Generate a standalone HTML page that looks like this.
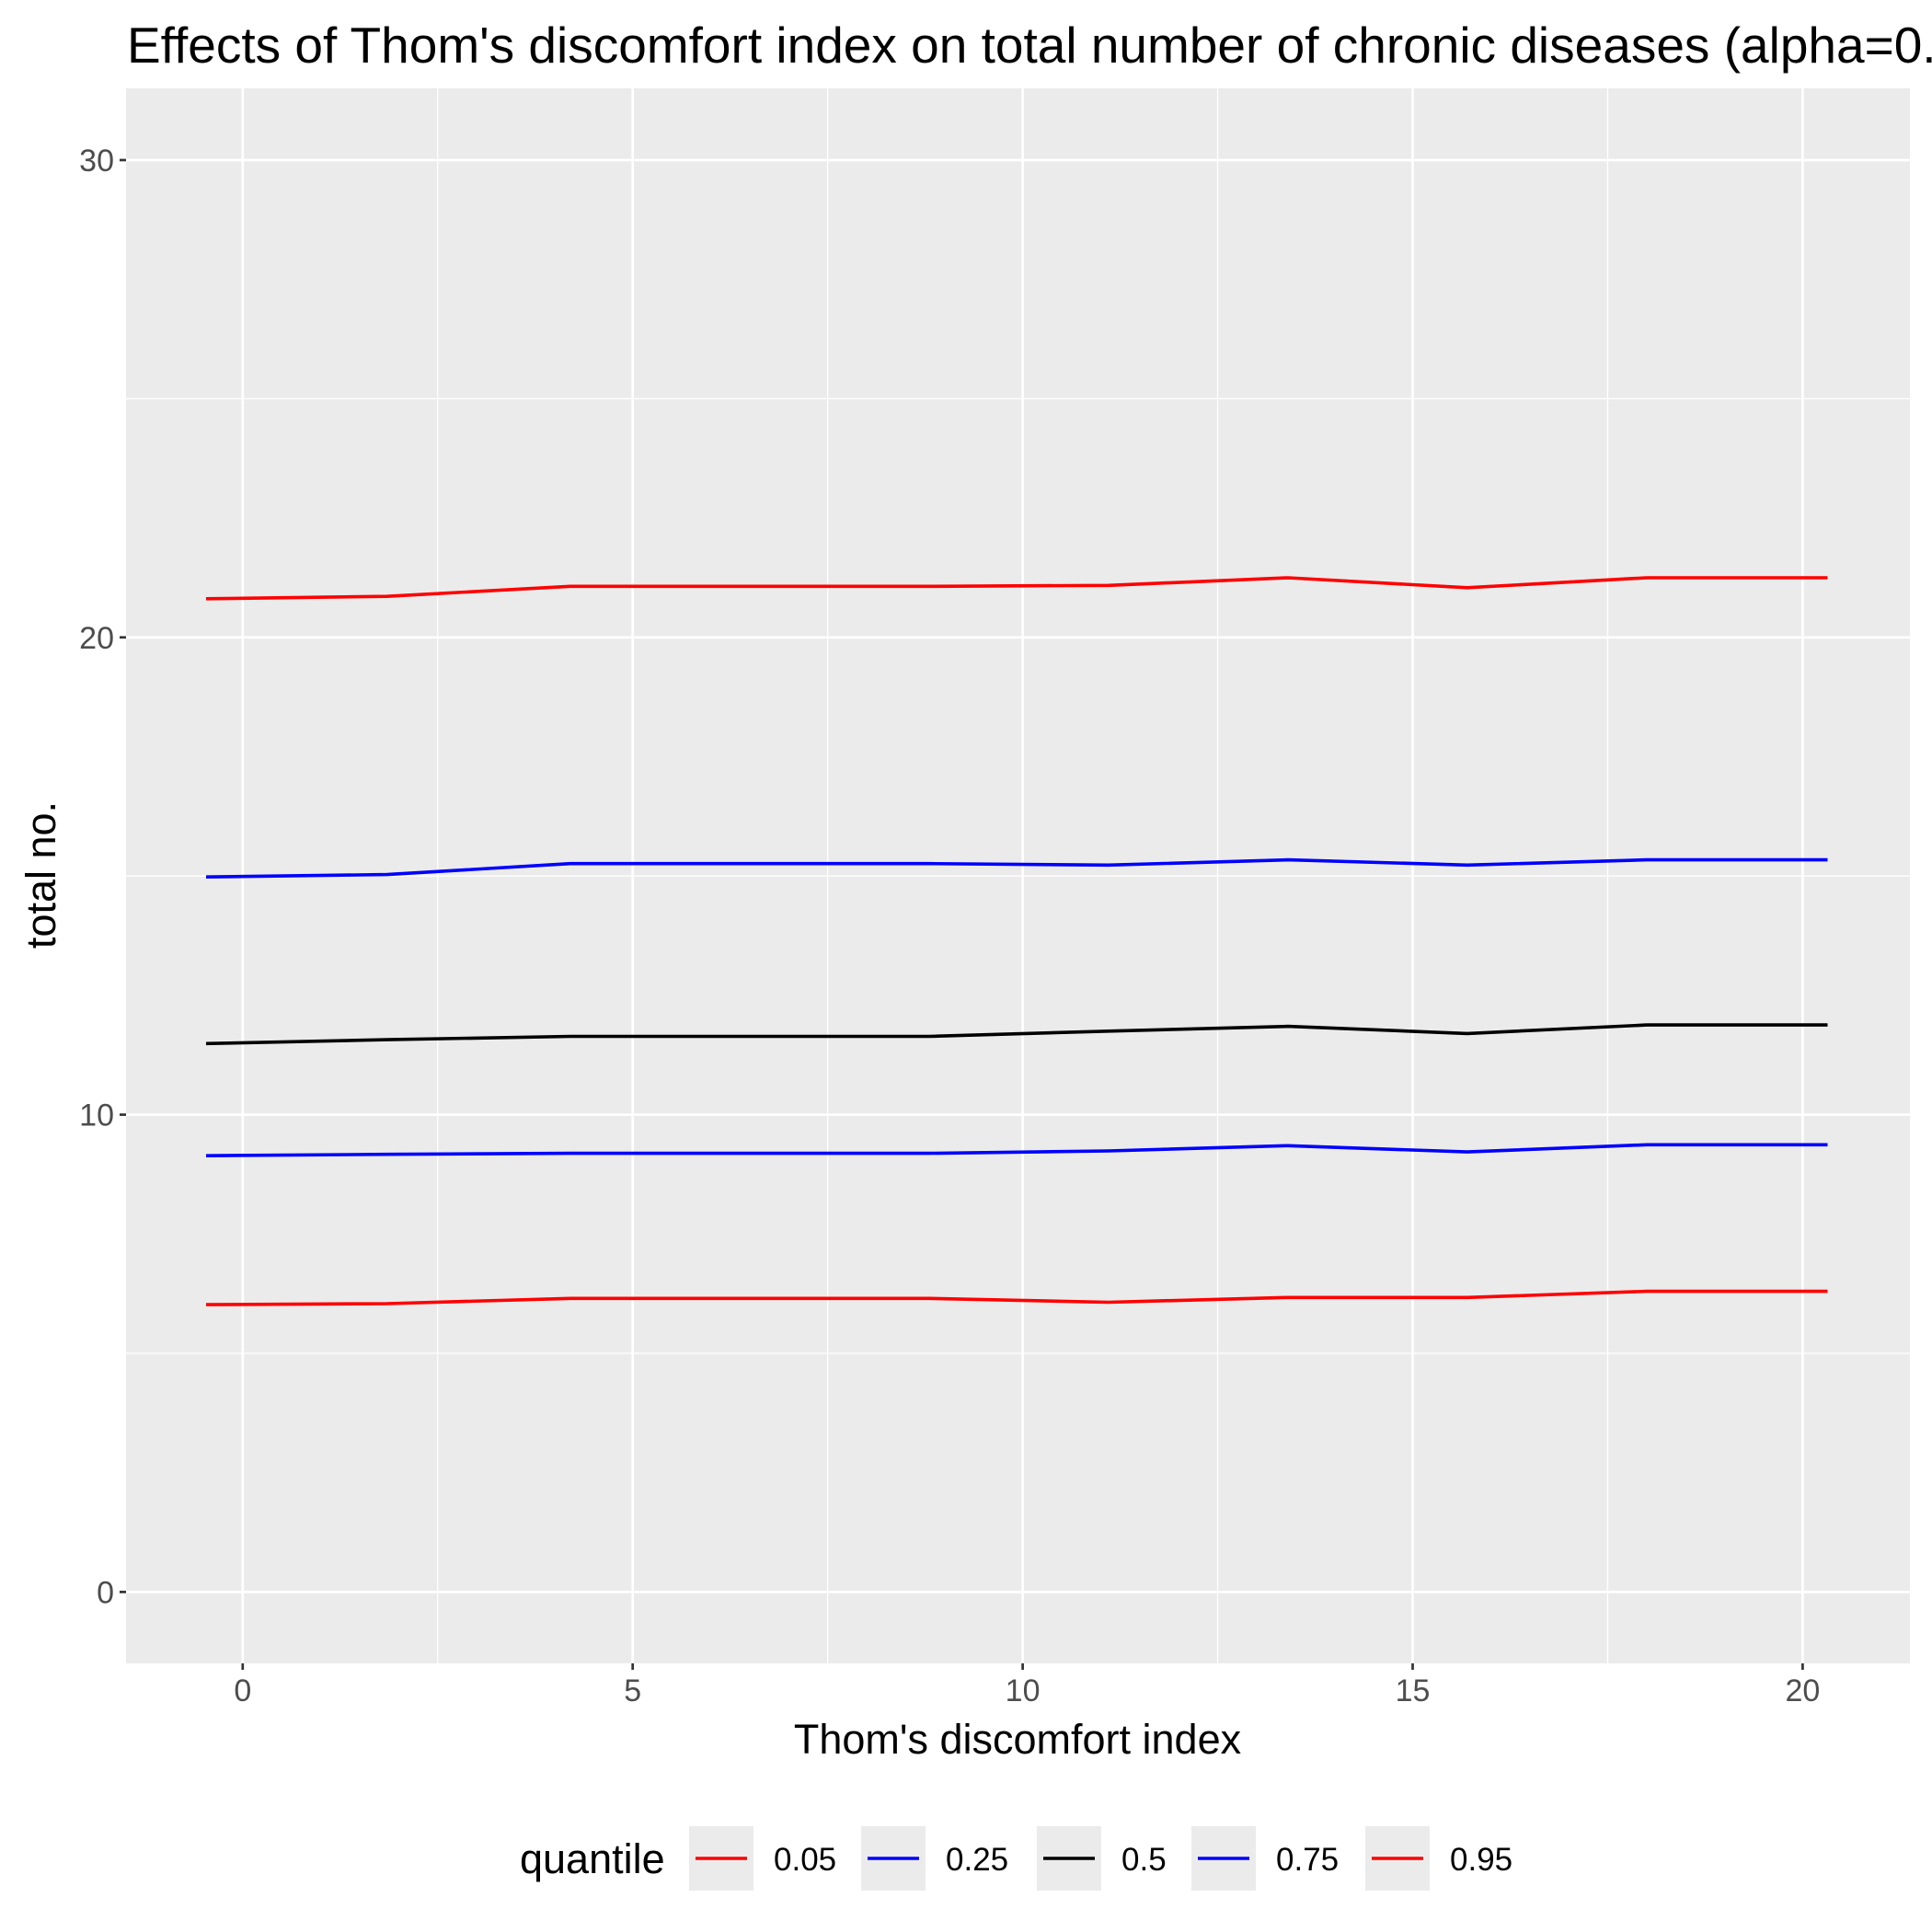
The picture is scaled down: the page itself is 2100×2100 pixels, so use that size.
<!DOCTYPE html>
<html><head><meta charset="utf-8"><style>
html,body{margin:0;padding:0;background:#fff;overflow:hidden}
svg{display:block;font-family:"Liberation Sans",Arial,sans-serif}
</style></head><body>
<svg id="chart" width="2100" height="2100" viewBox="0 0 2100 2100">
<text x="138" y="68" font-size="55" fill="#000">Effects of Thom's discomfort index on total number of chronic diseases (alpha=0.05)</text>
<rect x="137" y="96" width="1939" height="1712" fill="#ebebeb"/>
<g id="grid"></g>
<g id="series"></g>
<g id="axes"></g>
<text x="1106" y="1906" font-size="45" text-anchor="middle" fill="#000">Thom's discomfort index</text>
<text transform="translate(60,951) rotate(-90)" font-size="45" text-anchor="middle" fill="#000">total no.</text>
<g id="legend"></g>
</svg>
<script>
const xs = [-0.47, 1.85, 4.2, 8.8, 11.1, 13.4, 15.7, 18.0, 20.32];
const q95 = [20.81, 20.86, 21.07, 21.07, 21.09, 21.25, 21.04, 21.25, 21.25];
const q75 = [14.98, 15.03, 15.26, 15.26, 15.23, 15.34, 15.23, 15.34, 15.34];
const q50 = [11.49, 11.57, 11.64, 11.64, 11.75, 11.85, 11.70, 11.88, 11.88];
const q25 = [9.14, 9.17, 9.19, 9.19, 9.24, 9.35, 9.22, 9.37, 9.37];
const q05 = [6.02, 6.04, 6.15, 6.15, 6.07, 6.17, 6.17, 6.30, 6.30];
const quantiles = ["0.05","0.25","0.5","0.75","0.95"];
const colors = ["#ff0000","#0000ff","#000000","#0000ff","#ff0000"];
const xTicks = [0,5,10,15,20];
const yTicks = [0,10,20,30];

const NS="http://www.w3.org/2000/svg";
const L=137,R=2076,T=96,B=1808;
const sx=v=>263.8+v*84.78;
const sy=v=>1730.4-v*51.88;
function mk(t,a,p){const e=document.createElementNS(NS,t);for(const k in a)e.setAttribute(k,a[k]);p.appendChild(e);return e;}
const grid=document.getElementById('grid');
for(let i=0;i<xTicks.length;i++){
  const v=xTicks[i];
  const g=mk('line',{x1:sx(v),x2:sx(v),y1:T,y2:B,stroke:'#fff','stroke-width':2.7},grid);
  
  
  if(i<xTicks.length-1){const m=(v+xTicks[i+1])/2;
    const g2=mk('line',{x1:sx(m),x2:sx(m),y1:T,y2:B,stroke:'#fff','stroke-width':1.3},grid);
    
    }
}
for(let i=0;i<yTicks.length;i++){
  const v=yTicks[i];
  const g=mk('line',{x1:L,x2:R,y1:sy(v),y2:sy(v),stroke:'#fff','stroke-width':2.7},grid);
  
  
  if(i<yTicks.length-1){const m=(v+yTicks[i+1])/2;
    const g2=mk('line',{x1:L,x2:R,y1:sy(m),y2:sy(m),stroke:'#fff','stroke-width':1.3},grid);
    
    }
}
const axes=document.getElementById('axes');
xTicks.forEach(v=>{
  const t=mk('line',{x1:sx(v),x2:sx(v),y1:B,y2:B+7,stroke:'#333','stroke-width':2.7},axes);
  
  
  const l=mk('text',{x:sx(v),y:B+41,'font-size':34,'text-anchor':'middle',fill:'#4d4d4d'},axes);
  l.textContent=v;
  
  
});
yTicks.forEach(v=>{
  const t=mk('line',{x1:L-7,x2:L,y1:sy(v),y2:sy(v),stroke:'#333','stroke-width':2.7},axes);
  
  
  const l=mk('text',{x:L-13,y:sy(v)+12,'font-size':34,'text-anchor':'end',fill:'#4d4d4d'},axes);
  l.textContent=v;
  
  
});
const series=[q05,q25,q50,q75,q95];
const sg=document.getElementById('series');
series.forEach((s,i)=>{
  const d=s.map((v,j)=>(j?'L':'M')+sx(xs[j]).toFixed(1)+','+sy(v).toFixed(1)).join(' ');
  const p=mk('path',{d:d,fill:'none',stroke:colors[i],'stroke-width':3.6},sg);
  
  
});
const lg=document.getElementById('legend');
const lt=mk('text',{x:565,y:2036,'font-size':45,fill:'#000'},lg);
lt.textContent='quantile';


const bx=[749,936,1127,1295,1484];
quantiles.forEach((q,i)=>{
  const g=mk('g',{},lg);
  
  
  mk('rect',{x:bx[i],y:1985,width:70,height:70,fill:'#ebebeb'},g);
  mk('line',{x1:bx[i]+7,x2:bx[i]+63,y1:2020,y2:2020,stroke:colors[i],'stroke-width':3.6},g);
  const t=mk('text',{x:bx[i]+92,y:2033,'font-size':35,fill:'#000'},g);
  t.textContent=q;
});
</script>
</body></html>
